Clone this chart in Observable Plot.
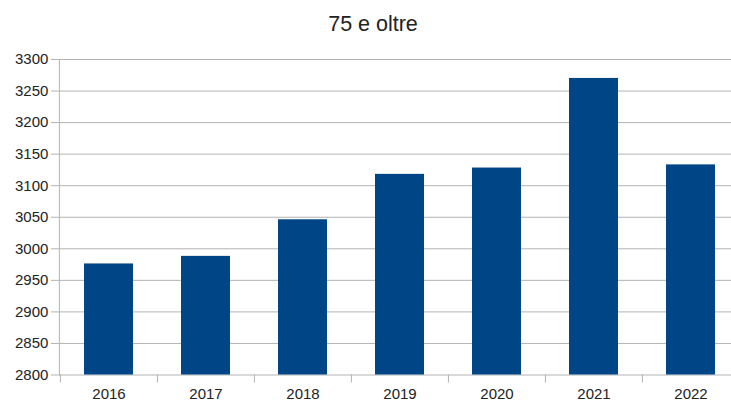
<!DOCTYPE html>
<html>
<head>
<meta charset="utf-8">
<script src="https://cdn.jsdelivr.net/npm/d3@7"></script>
<script src="https://cdn.jsdelivr.net/npm/@observablehq/plot@0.6"></script>
<style>
  html, body { margin: 0; padding: 0; background: #fff; overflow: hidden; }
  #title { height: 24px; padding-top: 12px; line-height: 24px; font-family: "Liberation Sans", Arial, sans-serif; font-size: 21.5px; color: #222; text-align: center; padding-left: 15px; box-sizing: content-box; width: 716px; }
  svg { display: block; }
</style>
</head>
<body>
<div id="title">75 e oltre</div>
<div id="chart"></div>
<script>
const years = ["2016", "2017", "2018", "2019", "2020", "2021", "2022"];
const values = [2976, 2988, 3046, 3118, 3128, 3270, 3133];
const yTicks = [2800, 2850, 2900, 2950, 3000, 3050, 3100, 3150, 3200, 3250, 3300];

const data = years.map((y, i) => ({year: y, value: values[i]}));
const W = 731, H = 365, mL = 58.9, mR = -7.8;
const step = (W - mR - mL) / years.length;
const grid = "#b3b3b3";

const chart = Plot.plot({
  width: W,
  height: H,
  marginTop: 23,
  marginBottom: 26.5,
  marginLeft: mL,
  marginRight: mR,
  style: {fontFamily: "'Liberation Sans', Arial, sans-serif", fontSize: "15px", color: "#222", background: "#fff"},
  x: {domain: years, paddingInner: 0.5, paddingOuter: 0.25, align: 0.5},
  y: {domain: [2800, 3300]},
  marks: [
    Plot.ruleY(yTicks, {stroke: grid, strokeWidth: 1}),
    Plot.ruleX(years, {x: d => d, y1: 2800, y2: 2787.3, dx: -step / 2, stroke: grid}),
    Plot.barY(data, {x: "year", y1: 2800, y2: "value", fill: "#004586"}),
    Plot.frame({anchor: "left", stroke: grid}),
    Plot.axisY(yTicks, {tickSize: 8, tickPadding: 3, stroke: grid, label: null, tickFormat: d => String(d), fill: "#222"}),
    Plot.axisX(years, {tickSize: 0, tickPadding: 13, label: null, fill: "#222"})
  ]
});
document.getElementById("chart").appendChild(chart);
</script>
</body>
</html>
